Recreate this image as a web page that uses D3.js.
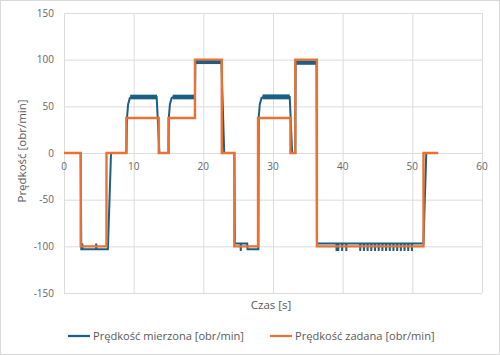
<!DOCTYPE html>
<html>
<head>
<meta charset="utf-8">
<script src="https://cdn.jsdelivr.net/npm/d3@7"></script>
<style>
  body { margin: 0; background: #fff; }
  svg { display: block; font-family: "Open Sans", "Noto Sans", sans-serif; }
  .tick-label { fill: #666; font-size: 10px; }
  .title { fill: #595959; font-size: 11.5px; }
  .legend { fill: #595959; font-size: 11.1px; }
  .grid line { stroke: #dcdcdc; stroke-width: 1; }
</style>
</head>
<body>
<svg width="500" height="355"></svg>
<script>
// Axis ticks
const xTicks = [0, 10, 20, 30, 40, 50, 60];
const yTicks = [-150, -100, -50, 0, 50, 100, 150];

// Set point (step function) [t, v]
const setT = [0, 2.4, 2.4, 6.1, 6.1, 8.95, 8.95, 13.6, 13.6, 15.0, 15.0, 18.8, 18.8, 22.65, 22.65, 24.45, 24.45, 27.85, 27.85, 32.5, 32.5, 33.2, 33.2, 36.3, 36.3, 51.6, 51.6, 53.7];
const setV = [0, 0, -100, -100, 0, 0, 37.5, 37.5, 0, 0, 37.5, 37.5, 100, 100, 0, 0, -100, -100, 37.5, 37.5, 0, 0, 100, 100, -100, -100, 0, 0];

// Measured speed, main trace [t, v]
const measT = [0, 2.4, 2.48, 2.6, 2.62, 2.66, 4.6, 4.62, 4.66, 6.3, 6.75, 8.95, 9.05, 9.2, 9.45, 9.7, 13.3, 13.7, 15.0, 15.05, 15.2, 15.45, 15.7, 18.8, 18.85, 22.6, 23.0, 24.45, 24.52, 25.35, 25.37, 25.42, 26.3, 26.35, 27.9, 27.95, 28.1, 28.35, 28.6, 32.4, 32.75, 33.2, 33.25, 36.25, 36.32];
const measV = [0, 0, -103, -103, -97, -103, -103, -97, -103, -103, 0, 0, 38, 52, 59, 60, 60, 0, 0, 38, 52, 59, 60, 60, 97, 97, 0, 0, -97, -97, -105, -97, -97, -103, -103, 38, 52, 59, 60, 60, 0, 0, 97, 97, -97];
const measTailT = [51.6, 52.0, 53.7];
const measTailV = [-97, 0, 0];

// Downward noise spikes during the last -100 segment
const spikeT = [39.1, 39.35, 39.9, 40.5, 42.5, 43.03, 43.56, 44.09, 44.62, 45.15, 45.68, 46.21, 46.74, 47.27, 47.8, 48.33, 48.86, 49.39, 49.92];
const spikeLow = -105;

// Noise envelopes on plateaus [t0, t1, low, high]
const bands = [
  [9.5, 13.35, 57.5, 62.5],
  [15.6, 18.8, 57.5, 62.5],
  [18.9, 22.6, 95.3, 99.7],
  [28.5, 32.4, 57.5, 62.8],
  [33.3, 36.2, 94.5, 99.2]
];

const seriesNames = ['Prędkość mierzona [obr/min]', 'Prędkość zadana [obr/min]'];
const colors = ['#1c5f86', '#e97132'];

const svg = d3.select('svg');
const margin = { t: 13, r: 18, b: 62, l: 64 };
const width = 500 - margin.l - margin.r;
const height = 355 - margin.t - margin.b;

svg.append('rect')
  .attr('x', 0.5).attr('y', 0.5)
  .attr('width', 499).attr('height', 354)
  .attr('fill', '#fff').attr('stroke', '#d9d9d9');

const x = d3.scaleLinear().domain([0, 60]).range([0, width]);
const y = d3.scaleLinear().domain([-150, 150]).range([height, 0]);

const g = svg.append('g').attr('transform', `translate(${margin.l},${margin.t})`);

// gridlines
g.append('g').attr('class', 'grid')
  .call(d3.axisLeft(y).tickValues(yTicks).tickSize(-width).tickFormat(''))
  .call(s => s.select('.domain').remove());
g.append('g').attr('class', 'grid')
  .attr('transform', `translate(0,${height})`)
  .call(d3.axisBottom(x).tickValues(xTicks).tickSize(-height).tickFormat(''))
  .call(s => s.select('.domain').remove());

// y tick labels
g.selectAll('.ylab').data(yTicks).enter().append('text')
  .attr('class', 'tick-label')
  .attr('x', -10).attr('y', d => y(d))
  .attr('dy', '0.35em').attr('text-anchor', 'end')
  .text(d => d);

// x tick labels, next to the zero line
g.selectAll('.xlab').data(xTicks).enter().append('text')
  .attr('class', 'tick-label')
  .attr('x', d => x(d)).attr('y', y(0) + 17)
  .attr('text-anchor', 'middle')
  .text(d => d);

// measured series
const line = d3.line().x(d => x(d[0])).y(d => y(d[1]));
const area = d3.area().x(d => x(d[0])).y0(d => y(d[1])).y1(d => y(d[2]));

g.selectAll('.band').data(bands).enter().append('path')
  .attr('fill', colors[0])
  .attr('d', b => area([[b[0], b[2], b[3]], [b[1], b[2], b[3]]]));

const measPts = measT.map((t, i) => [t, measV[i]]);
spikeT.forEach(t => {
  measPts.push([t, -97], [t + 0.02, spikeLow], [t + 0.05, -97]);
});
measTailT.forEach((t, i) => measPts.push([t, measTailV[i]]));

g.append('path')
  .attr('fill', 'none')
  .attr('stroke', colors[0])
  .attr('stroke-width', 2)
  .attr('d', line(measPts));

// set point series
g.append('path')
  .attr('fill', 'none')
  .attr('stroke', colors[1])
  .attr('stroke-width', 2.4)
  .attr('d', line(setT.map((t, i) => [t, setV[i]])));

// axis titles
svg.append('text').attr('class', 'title')
  .attr('x', 271).attr('y', 309).attr('text-anchor', 'middle')
  .text('Czas [s]');
svg.append('text').attr('class', 'title')
  .attr('transform', 'translate(26,151) rotate(-90)')
  .attr('text-anchor', 'middle')
  .text('Prędkość [obr/min]');

// legend
const legendX = [68, 270];
seriesNames.forEach((name, i) => {
  svg.append('line')
    .attr('x1', legendX[i]).attr('x2', legendX[i] + 22)
    .attr('y1', 336).attr('y2', 336)
    .attr('stroke', colors[i]).attr('stroke-width', 2.2);
  svg.append('text').attr('class', 'legend')
    .attr('x', legendX[i] + 25).attr('y', 340)
    .text(name);
});
</script>
</body>
</html>
